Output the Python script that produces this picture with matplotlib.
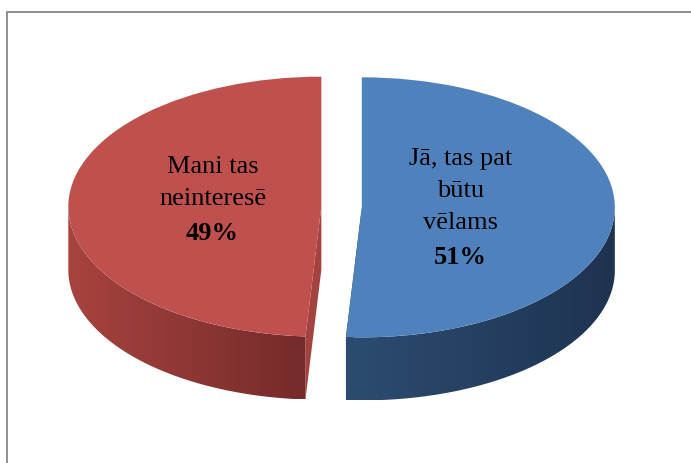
"""
3D-style pie chart: interest in the topic (Latvian survey answers).
Top faces drawn with ax.pie, side walls extruded from the same angles.
"""
import matplotlib.pyplot as plt
from matplotlib.patches import Polygon, Rectangle
from matplotlib.colors import LinearSegmentedColormap
import numpy as np

# data
labels = ["Jā, tas pat\nbūtu\nvēlams", "Mani tas\nneinteresē"]
values = [51, 49]
pct_labels = ["51%", "49%"]

# styling
TOP_COLORS = ["#4f81bd", "#c0504d"]
SIDE_LIGHT = ["#2c4c72", "#a8433f"]
SIDE_DARK = ["#1e3350", "#742b2a"]
CUT_COLORS = ["#263f5f", "#a3423f"]
EXPLODE = 0.08
DEPTH = 0.485          # side height in data units (y)
LABEL_R = [0.39, 0.43]
LABEL_DY = [0.145, 0.175]
FONT = "Liberation Serif"

fig = plt.figure(figsize=(6.91, 4.64), dpi=100)
ax = fig.add_axes([0, 0, 1, 1])

wedges, _ = ax.pie(values, colors=TOP_COLORS, startangle=90,
                   counterclock=False, explode=[EXPLODE] * len(values),
                   wedgeprops=dict(linewidth=0, zorder=5))
ax.set_aspect("auto")
ax.axis("off")

for i, w in enumerate(wedges):
    cx, cy = w.center
    t1, t2 = w.theta1, w.theta2  # counter-clockwise, degrees

    # cut faces (radial faces extruded downward)
    for th in (t1, t2):
        px = cx + np.cos(np.radians(th))
        py = cy + np.sin(np.radians(th))
        quad = [(cx, cy), (px, py), (px, py - DEPTH), (cx, cy - DEPTH)]
        ax.add_patch(Polygon(quad, closed=True, fc=CUT_COLORS[i], ec="none", zorder=2))

    # visible outer wall: the front half of the ellipse (180..360 deg)
    cmap = LinearSegmentedColormap.from_list(f"side{i}", [SIDE_LIGHT[i], SIDE_DARK[i]])
    for shift in (-360, 0, 360):
        a, b = max(t1 + shift, 180), min(t2 + shift, 360)
        if b <= a:
            continue
        angs = np.radians(np.linspace(a, b, 120))
        xs = cx + np.cos(angs)
        ys = cy + np.sin(angs)
        pts = np.vstack([np.column_stack([xs, ys]),
                         np.column_stack([xs[::-1], ys[::-1] - DEPTH])])
        wall = Polygon(pts, closed=True, fc="none", ec="none", zorder=3)
        ax.add_patch(wall)
        grad = np.linspace(0, 1, 256).reshape(1, -1)
        im = ax.imshow(grad, cmap=cmap, aspect="auto", zorder=3,
                       extent=[xs.min(), xs.max(), ys.min() - DEPTH, ys.max()],
                       interpolation="bilinear")
        im.set_clip_path(wall)

    # labels: name lines, bold percentage right under them
    mid = np.radians((t1 + t2) / 2)
    lx = cx + LABEL_R[i] * np.cos(mid)
    ly = cy + LABEL_R[i] * np.sin(mid) + LABEL_DY[i]
    name = ax.text(lx, ly, labels[i], ha="center", va="center", multialignment="center",
                   fontsize=19, family=FONT, linespacing=1.6, zorder=10)
    ax.annotate(pct_labels[i], xy=(0.5, 0), xycoords=name,
                xytext=(0, -8.5), textcoords="offset points", ha="center", va="top",
                fontsize=19, family=FONT, fontweight="bold", zorder=10)

ax.set_xlim(-1.35, 1.381)
ax.set_ylim(-1.969, 1.6)

# outer chart border
fig.patches.append(Rectangle((7 / 691, -0.1), 1.2, 1.1 - 13 / 464,
                             transform=fig.transFigure, fill=False,
                             ec="#868686", lw=1.3))

plt.savefig("out.png", dpi=100)
